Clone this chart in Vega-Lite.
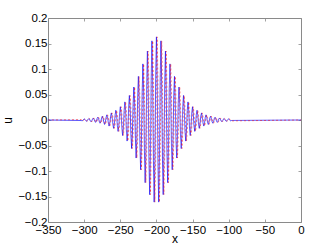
{
"$schema":"https://vega.github.io/schema/vega-lite/v6.json",
"width":253,"height":204,
"autosize":{"type":"none"},
"padding":{"left":48,"top":18,"right":31,"bottom":28},
"config":{"view":{"stroke":"#8a8a8a","strokeWidth":1},
"axis":{"domain":false,"grid":false,"tickColor":"#8a8a8a","tickSize":-3,"tickWidth":0.8,"labelFont":"Liberation Sans","labelFontSize":11.5,"labelColor":"#000","titleFont":"Liberation Sans","titleFontSize":12,"titleFontWeight":"normal","titleColor":"#000","labelOverlap":false,"labelFlush":false}},
"data":{"values":[
{"x":-350,"a":0,"b":0},
{"x":-304,"a":-0.0009,"b":0.0008},{"x":-302.96,"a":-0.0018,"b":-0.0009},{"x":-301.92,"a":-0.001,"b":-0.0018},{"x":-300.88,"a":0.001,"b":-0.001},{"x":-299.84,"a":0.0021,"b":0.001},{"x":-298.8,"a":0.0011,"b":0.0021},{"x":-297.76,"a":-0.0012,"b":0.0011},{"x":-296.72,"a":-0.0025,"b":-0.0012},{"x":-295.68,"a":-0.0013,"b":-0.0025},{"x":-294.64,"a":0.0014,"b":-0.0013},
{"x":-293.6,"a":0.0029,"b":0.0014},{"x":-292.56,"a":0.0015,"b":0.0029},{"x":-291.52,"a":-0.0016,"b":0.0015},{"x":-290.48,"a":-0.0034,"b":-0.0016},{"x":-289.44,"a":-0.0018,"b":-0.0034},{"x":-288.4,"a":0.0019,"b":-0.0018},{"x":-287.36,"a":0.004,"b":0.0019},{"x":-286.32,"a":0.0021,"b":0.004},{"x":-285.28,"a":-0.0022,"b":0.0021},{"x":-284.24,"a":-0.0046,"b":-0.0022},
{"x":-283.2,"a":-0.0025,"b":-0.0046},{"x":-282.16,"a":0.0026,"b":-0.0025},{"x":-281.12,"a":0.0054,"b":0.0026},{"x":-280.08,"a":0.0029,"b":0.0054},{"x":-279.04,"a":-0.003,"b":0.0029},{"x":-278,"a":-0.0063,"b":-0.003},{"x":-276.96,"a":-0.0034,"b":-0.0063},{"x":-275.92,"a":0.0035,"b":-0.0034},{"x":-274.88,"a":0.0074,"b":0.0035},{"x":-273.84,"a":0.0039,"b":0.0074},
{"x":-272.8,"a":-0.0041,"b":0.0039},{"x":-271.76,"a":-0.0087,"b":-0.0041},{"x":-270.72,"a":-0.0046,"b":-0.0087},{"x":-269.68,"a":0.0048,"b":-0.0046},{"x":-268.64,"a":0.0101,"b":0.0048},{"x":-267.6,"a":0.0054,"b":0.0101},{"x":-266.56,"a":-0.0057,"b":0.0054},{"x":-265.52,"a":-0.0119,"b":-0.0057},{"x":-264.48,"a":-0.0063,"b":-0.0119},{"x":-263.44,"a":0.0066,"b":-0.0063},
{"x":-262.4,"a":0.0139,"b":0.0066},{"x":-261.36,"a":0.0074,"b":0.0139},{"x":-260.32,"a":-0.0078,"b":0.0074},{"x":-259.28,"a":-0.0163,"b":-0.0078},{"x":-258.24,"a":-0.0086,"b":-0.0163},{"x":-257.2,"a":0.0091,"b":-0.0086},{"x":-256.16,"a":0.019,"b":0.0091},{"x":-255.12,"a":0.0101,"b":0.019},{"x":-254.08,"a":-0.0106,"b":0.0101},{"x":-253.04,"a":-0.0223,"b":-0.0106},
{"x":-252,"a":-0.0118,"b":-0.0223},{"x":-250.96,"a":0.0124,"b":-0.0118},{"x":-249.92,"a":0.026,"b":0.0124},{"x":-248.88,"a":0.0137,"b":0.026},{"x":-247.84,"a":-0.0145,"b":0.0137},{"x":-246.8,"a":-0.0304,"b":-0.0145},{"x":-245.76,"a":-0.016,"b":-0.0304},{"x":-244.72,"a":0.0169,"b":-0.016},{"x":-243.68,"a":0.0355,"b":0.0169},{"x":-242.64,"a":0.0187,"b":0.0355},
{"x":-241.6,"a":-0.0197,"b":0.0187},{"x":-240.56,"a":-0.0413,"b":-0.0197},{"x":-239.52,"a":-0.0218,"b":-0.0413},{"x":-238.48,"a":0.0229,"b":-0.0218},{"x":-237.44,"a":0.0481,"b":0.0229},{"x":-236.4,"a":0.0253,"b":0.0481},{"x":-235.36,"a":-0.0266,"b":0.0253},{"x":-234.32,"a":-0.0559,"b":-0.0266},{"x":-233.28,"a":-0.0294,"b":-0.0559},{"x":-232.24,"a":0.0308,"b":-0.0294},
{"x":-231.2,"a":0.0647,"b":0.0308},{"x":-230.16,"a":0.0339,"b":0.0647},{"x":-229.12,"a":-0.0356,"b":0.0339},{"x":-228.08,"a":-0.0746,"b":-0.0356},{"x":-227.04,"a":-0.0391,"b":-0.0746},{"x":-226,"a":0.0409,"b":-0.0391},{"x":-224.96,"a":0.0855,"b":0.0409},{"x":-223.92,"a":0.0447,"b":0.0855},{"x":-222.88,"a":-0.0467,"b":0.0447},{"x":-221.84,"a":-0.0975,"b":-0.0467},
{"x":-220.8,"a":-0.0508,"b":-0.0975},{"x":-219.76,"a":0.0529,"b":-0.0508},{"x":-218.72,"a":0.11,"b":0.0529},{"x":-217.68,"a":0.0572,"b":0.11},{"x":-216.64,"a":-0.0593,"b":0.0572},{"x":-215.6,"a":-0.1228,"b":-0.0593},{"x":-214.56,"a":-0.0636,"b":-0.1228},{"x":-213.52,"a":0.0656,"b":-0.0636},{"x":-212.48,"a":0.1352,"b":0.0656},{"x":-211.44,"a":0.0696,"b":0.1352},
{"x":-210.4,"a":-0.0714,"b":0.0696},{"x":-209.36,"a":-0.1463,"b":-0.0714},{"x":-208.32,"a":-0.0748,"b":-0.1463},{"x":-207.28,"a":0.0763,"b":-0.0748},{"x":-206.24,"a":0.1552,"b":0.0763},{"x":-205.2,"a":0.0788,"b":0.1552},{"x":-204.16,"a":-0.0798,"b":0.0788},{"x":-203.12,"a":-0.161,"b":-0.0798},{"x":-202.08,"a":-0.0811,"b":-0.161},{"x":-201.04,"a":0.0814,"b":-0.0811},
{"x":-200,"a":0.163,"b":0.0814},
{"x":-198.96,"a":0.0814,"b":0.163},{"x":-197.92,"a":-0.0811,"b":0.0814},{"x":-196.88,"a":-0.161,"b":-0.0811},{"x":-195.84,"a":-0.0798,"b":-0.161},{"x":-194.8,"a":0.0788,"b":-0.0798},{"x":-193.76,"a":0.1552,"b":0.0788},{"x":-192.72,"a":0.0763,"b":0.1552},{"x":-191.68,"a":-0.0748,"b":0.0763},{"x":-190.64,"a":-0.1463,"b":-0.0748},{"x":-189.6,"a":-0.0714,"b":-0.1463},
{"x":-188.56,"a":0.0696,"b":-0.0714},{"x":-187.52,"a":0.1352,"b":0.0696},{"x":-186.48,"a":0.0656,"b":0.1352},{"x":-185.44,"a":-0.0636,"b":0.0656},{"x":-184.4,"a":-0.1228,"b":-0.0636},{"x":-183.36,"a":-0.0593,"b":-0.1228},{"x":-182.32,"a":0.0572,"b":-0.0593},{"x":-181.28,"a":0.11,"b":0.0572},{"x":-180.24,"a":0.0529,"b":0.11},{"x":-179.2,"a":-0.0508,"b":0.0529},
{"x":-178.16,"a":-0.0975,"b":-0.0508},{"x":-177.12,"a":-0.0467,"b":-0.0975},{"x":-176.08,"a":0.0447,"b":-0.0467},{"x":-175.04,"a":0.0855,"b":0.0447},{"x":-174,"a":0.0409,"b":0.0855},{"x":-172.96,"a":-0.0391,"b":0.0409},{"x":-171.92,"a":-0.0746,"b":-0.0391},{"x":-170.88,"a":-0.0356,"b":-0.0746},{"x":-169.84,"a":0.0339,"b":-0.0356},{"x":-168.8,"a":0.0647,"b":0.0339},
{"x":-167.76,"a":0.0308,"b":0.0647},{"x":-166.72,"a":-0.0294,"b":0.0308},{"x":-165.68,"a":-0.0559,"b":-0.0294},{"x":-164.64,"a":-0.0266,"b":-0.0559},{"x":-163.6,"a":0.0253,"b":-0.0266},{"x":-162.56,"a":0.0481,"b":0.0253},{"x":-161.52,"a":0.0229,"b":0.0481},{"x":-160.48,"a":-0.0218,"b":0.0229},{"x":-159.44,"a":-0.0413,"b":-0.0218},{"x":-158.4,"a":-0.0197,"b":-0.0413},
{"x":-157.36,"a":0.0187,"b":-0.0197},{"x":-156.32,"a":0.0355,"b":0.0187},{"x":-155.28,"a":0.0169,"b":0.0355},{"x":-154.24,"a":-0.016,"b":0.0169},{"x":-153.2,"a":-0.0304,"b":-0.016},{"x":-152.16,"a":-0.0145,"b":-0.0304},{"x":-151.12,"a":0.0137,"b":-0.0145},{"x":-150.08,"a":0.026,"b":0.0137},{"x":-149.04,"a":0.0124,"b":0.026},{"x":-148,"a":-0.0118,"b":0.0124},
{"x":-146.96,"a":-0.0223,"b":-0.0118},{"x":-145.92,"a":-0.0106,"b":-0.0223},{"x":-144.88,"a":0.0101,"b":-0.0106},{"x":-143.84,"a":0.019,"b":0.0101},{"x":-142.8,"a":0.0091,"b":0.019},{"x":-141.76,"a":-0.0086,"b":0.0091},{"x":-140.72,"a":-0.0163,"b":-0.0086},{"x":-139.68,"a":-0.0078,"b":-0.0163},{"x":-138.64,"a":0.0074,"b":-0.0078},{"x":-137.6,"a":0.0139,"b":0.0074},
{"x":-136.56,"a":0.0066,"b":0.0139},{"x":-135.52,"a":-0.0063,"b":0.0066},{"x":-134.48,"a":-0.0119,"b":-0.0063},{"x":-133.44,"a":-0.0057,"b":-0.0119},{"x":-132.4,"a":0.0054,"b":-0.0057},{"x":-131.36,"a":0.0101,"b":0.0054},{"x":-130.32,"a":0.0048,"b":0.0101},{"x":-129.28,"a":-0.0046,"b":0.0048},{"x":-128.24,"a":-0.0087,"b":-0.0046},{"x":-127.2,"a":-0.0041,"b":-0.0087},
{"x":-126.16,"a":0.0039,"b":-0.0041},{"x":-125.12,"a":0.0074,"b":0.0039},{"x":-124.08,"a":0.0035,"b":0.0074},{"x":-123.04,"a":-0.0034,"b":0.0035},{"x":-122,"a":-0.0063,"b":-0.0034},{"x":-120.96,"a":-0.003,"b":-0.0063},{"x":-119.92,"a":0.0029,"b":-0.003},{"x":-118.88,"a":0.0054,"b":0.0029},{"x":-117.84,"a":0.0026,"b":0.0054},{"x":-116.8,"a":-0.0025,"b":0.0026},
{"x":-115.76,"a":-0.0046,"b":-0.0025},{"x":-114.72,"a":-0.0022,"b":-0.0046},{"x":-113.68,"a":0.0021,"b":-0.0022},{"x":-112.64,"a":0.004,"b":0.0021},{"x":-111.6,"a":0.0019,"b":0.004},{"x":-110.56,"a":-0.0018,"b":0.0019},{"x":-109.52,"a":-0.0034,"b":-0.0018},{"x":-108.48,"a":-0.0016,"b":-0.0034},{"x":-107.44,"a":0.0015,"b":-0.0016},{"x":-106.4,"a":0.0029,"b":0.0015},
{"x":-105.36,"a":0.0014,"b":0.0029},{"x":-104.32,"a":-0.0013,"b":0.0014},{"x":-103.28,"a":-0.0025,"b":-0.0013},{"x":-102.24,"a":-0.0012,"b":-0.0025},{"x":-101.2,"a":0.0011,"b":-0.0012},{"x":-100.16,"a":0.0021,"b":0.0011},{"x":-99.12,"a":0.001,"b":0.0021},{"x":-98.08,"a":-0.001,"b":0.001},{"x":-97.04,"a":-0.0018,"b":-0.001},{"x":-96,"a":-0.0009,"b":-0.0018},
{"x":0,"a":0,"b":0}
]},
"layer":[
{"transform":[{"fold":["a","b"],"as":["s","u"]}],
"mark":{"type":"line","clip":true},
"encoding":{
"x":{"field":"x","type":"quantitative","scale":{"domain":[-350,0],"nice":false,"zero":false},
"axis":{"orient":"bottom","values":[-350,-300,-250,-200,-150,-100,-50,0],"labelPadding":5,"title":"x","titleY":20,"titleBaseline":"alphabetic"}},
"y":{"field":"u","type":"quantitative","scale":{"domain":[-0.2,0.2],"nice":false,"zero":false},
"axis":{"orient":"left","values":[-0.2,-0.15,-0.1,-0.05,0,0.05,0.1,0.15,0.2],"format":".2~f","labelPadding":4,"title":"u","titleAngle":-90,"titleX":-41,"titleY":102,"titleBaseline":"middle","titleAlign":"center"}},
"color":{"field":"s","type":"nominal","scale":{"domain":["a","b"],"range":["#0000ff","#ff0000"]},"legend":null},
"strokeDash":{"field":"s","type":"nominal","scale":{"domain":["a","b"],"range":[[1,0],[2,2]]},"legend":null},
"strokeWidth":{"field":"s","type":"nominal","scale":{"domain":["a","b"],"range":[0.7,0.5]},"legend":null}
}},
{"mark":{"type":"point","opacity":0},
"encoding":{
"x":{"field":"x","type":"quantitative","scale":{"domain":[-350,0],"nice":false,"zero":false},
"axis":{"orient":"top","values":[-350,-300,-250,-200,-150,-100,-50,0],"labels":false,"title":null}},
"y":{"field":"a","type":"quantitative","scale":{"domain":[-0.2,0.2],"nice":false,"zero":false},
"axis":{"orient":"right","values":[-0.2,-0.15,-0.1,-0.05,0,0.05,0.1,0.15,0.2],"labels":false,"title":null}}
}}
],
"resolve":{"axis":{"x":"independent","y":"independent"}}
}
